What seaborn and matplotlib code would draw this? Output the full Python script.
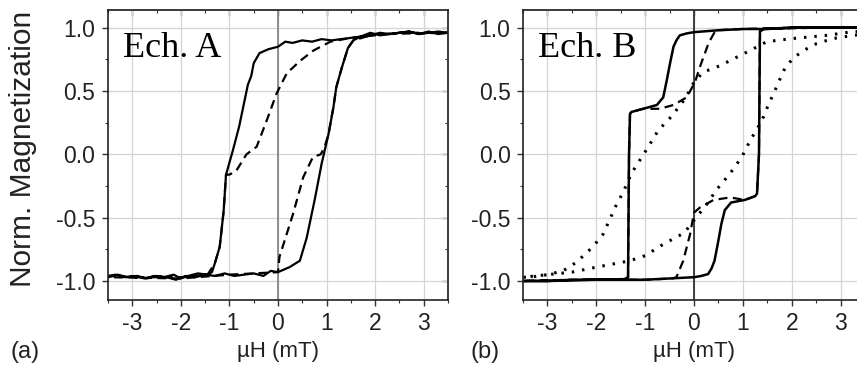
import matplotlib
matplotlib.use("Agg")
import matplotlib.pyplot as plt
import seaborn as sns
import pandas as pd
from matplotlib.ticker import MultipleLocator

sns.set_theme(style="whitegrid")
plt.rcParams['font.family'] = ['Liberation Sans', 'DejaVu Sans']

# ---- Ech. A : major loop (solid) ----
a_solid_dn_x = [3.5, 3.3, 3.1, 2.9, 2.7, 2.5, 2.3, 2.1, 1.9, 1.7, 1.5, 1.3, 1.1, 0.9, 0.7, 0.5, 0.3, 0.15,
                0.0, -0.2, -0.38, -0.5, -0.55, -0.62, -0.8, -0.93, -1.07, -1.12, -1.2, -1.3, -1.36, -1.45,
                -1.65, -1.85, -2.0, -2.15, -2.35, -2.55, -2.75, -2.95, -3.15, -3.35, -3.5]
a_solid_dn_y = [0.96, 0.95, 0.97, 0.95, 0.97, 0.96, 0.95, 0.94, 0.96, 0.93, 0.92, 0.91, 0.90, 0.91, 0.89,
                0.90, 0.88, 0.89, 0.85, 0.83, 0.80, 0.72, 0.62, 0.55, 0.22, 0.03, -0.16, -0.45, -0.73,
                -0.86, -0.93, -0.95, -0.94, -0.96, -0.98, -0.95, -0.97, -0.96, -0.98, -0.96, -0.97, -0.95,
                -0.96]
a_solid_up_x = [-3.5, -3.3, -3.1, -2.9, -2.7, -2.5, -2.3, -2.1, -1.9, -1.7, -1.5, -1.3, -1.1, -0.9, -0.7,
                -0.5, -0.3, -0.15, 0.0, 0.24, 0.45, 0.59, 0.76, 0.9, 1.04, 1.14, 1.2, 1.31, 1.44, 1.55,
                1.7, 1.9, 2.1, 2.3, 2.5, 2.7, 2.9, 3.1, 3.3, 3.5]
a_solid_up_y = [-0.97, -0.95, -0.97, -0.96, -0.98, -0.96, -0.97, -0.99, -0.96, -0.97, -0.95, -0.96,
                -0.94, -0.96, -0.95, -0.94, -0.96, -0.92, -0.93, -0.89, -0.84, -0.66, -0.35, -0.07, 0.16,
                0.37, 0.53, 0.68, 0.84, 0.90, 0.93, 0.94, 0.96, 0.95, 0.96, 0.97, 0.95, 0.96, 0.97, 0.96]

# ---- Ech. A : minor loop (dashed) ----
a_dash_dn_x = [3.5, 2.5, 1.5, 1.08, 0.73, 0.46, 0.18, -0.03, -0.23, -0.44, -0.65, -0.86, -1.0, -1.07,
               -1.12, -1.2, -1.3, -1.45, -2.0, -3.0, -3.5]
a_dash_dn_y = [0.96, 0.96, 0.92, 0.89, 0.82, 0.74, 0.64, 0.48, 0.27, 0.06, 0.0, -0.13, -0.16, -0.16,
               -0.45, -0.73, -0.86, -0.95, -0.97, -0.97, -0.96]
a_dash_up_x = [-3.5, -2.0, -1.0, 0.0, 0.03, 0.31, 0.52, 0.72, 0.88, 0.96, 1.04, 1.14, 1.2, 1.31, 1.44,
               1.55, 2.0, 3.5]
a_dash_up_y = [-0.97, -0.98, -0.95, -0.93, -0.81, -0.47, -0.18, -0.02, 0.0, 0.06, 0.16, 0.37, 0.53,
               0.68, 0.84, 0.90, 0.95, 0.96]

# ---- Ech. B : major loop (solid) ----
b_solid_dn_x = [3.5, 3.0, 2.0, 1.5, 1.0, 0.5, 0.0, -0.15, -0.29, -0.36, -0.42, -0.49, -0.56, -0.63,
                -0.76, -1.04, -1.28, -1.31, -1.33, -1.35, -1.42, -2.0, -2.5, -3.0, -3.5]
b_solid_dn_y = [1.0, 1.0, 1.0, 0.99, 0.99, 0.98, 0.965, 0.955, 0.94, 0.90, 0.85, 0.72, 0.58, 0.45,
                0.39, 0.36, 0.335, 0.32, 0.0, -0.97, -0.985, -0.99, -0.99, -1.0, -1.0]
b_solid_up_x = [-3.5, -3.0, -2.0, -1.0, -0.5, 0.0, 0.15, 0.29, 0.36, 0.42, 0.49, 0.56, 0.63, 0.76,
                1.04, 1.25, 1.29, 1.33, 1.35, 1.42, 2.0, 2.5, 3.0, 3.5]
b_solid_up_y = [-1.0, -1.0, -0.99, -0.99, -0.98, -0.97, -0.96, -0.945, -0.90, -0.84, -0.70, -0.55,
                -0.44, -0.38, -0.36, -0.33, -0.31, 0.0, 0.97, 0.99, 1.0, 1.0, 1.0, 1.0]

# ---- Ech. B : minor loop (dashed) ----
b_dash_dn_x = [3.5, 2.0, 1.0, 0.45, 0.4, 0.3, 0.12, 0.02, -0.15, -0.42, -0.7, -1.04, -1.28, -1.31,
               -1.33, -1.35, -1.42, -2.5, -3.5]
b_dash_dn_y = [1.0, 1.0, 0.99, 0.98, 0.95, 0.88, 0.69, 0.57, 0.45, 0.39, 0.36, 0.36, 0.335, 0.32, 0.0,
               -0.97, -0.985, -0.99, -1.0]
b_dash_up_x = [-3.5, -2.0, -1.0, -0.45, -0.36, -0.22, -0.08, 0.0, 0.12, 0.4, 0.74, 1.04, 1.25, 1.29,
               1.33, 1.35, 1.42, 2.5, 3.5]
b_dash_up_y = [-1.0, -0.99, -0.99, -0.98, -0.97, -0.84, -0.63, -0.46, -0.42, -0.36, -0.34, -0.36, -0.33,
               -0.31, 0.0, 0.97, 0.99, 1.0, 1.0]

# ---- Ech. B : wide loop (dotted) ----
b_dot_dn_x = [3.5, 3.27, 2.72, 2.03, 1.49, 1.22, 0.94, 0.53, 0.26, 0.19, 0.0, -0.18, -0.46, -0.73, -1.0,
              -1.28, -1.45, -1.58, -1.86, -2.07, -2.4, -2.68, -3.0, -3.36, -3.5]
b_dot_dn_y = [0.97, 0.97, 0.94, 0.915, 0.89, 0.835, 0.78, 0.70, 0.66, 0.65, 0.57, 0.44, 0.30, 0.19, 0.02,
              -0.15, -0.30, -0.39, -0.63, -0.73, -0.85, -0.92, -0.95, -0.97, -0.97]
b_dot_up_x = [-3.5, -3.0, -2.5, -1.99, -1.31, -1.0, -0.63, -0.2, 0.0, 0.25, 0.46, 0.74, 0.98, 1.15, 1.32,
              1.42, 1.52, 1.63, 1.73, 1.86, 2.03, 2.24, 2.51, 2.85, 3.27, 3.5]
b_dot_up_y = [-0.97, -0.95, -0.93, -0.89, -0.84, -0.80, -0.71, -0.62, -0.52, -0.40, -0.28, -0.15, -0.02,
              0.11, 0.22, 0.295, 0.39, 0.48, 0.57, 0.68, 0.76, 0.82, 0.875, 0.915, 0.94, 0.95]

x_ticks = [-3, -2, -1, 0, 1, 2, 3]
y_ticks = [-1.0, -0.5, 0.0, 0.5, 1.0]
sample_names = ["Ech. A", "Ech. B"]
panel_tags = ["(a)", "(b)"]


def loop_frame(dn_x, dn_y, up_x, up_y):
    # one closed loop: descending branch followed by the ascending branch
    return pd.DataFrame({'H': dn_x + up_x, 'M': dn_y + up_y})


def draw_loop(ax, df, **kw):
    sns.lineplot(data=df, x='H', y='M', sort=False, estimator=None, ax=ax,
                 color='black', legend=False, **kw)


def style_axes(ax, zero_color):
    ax.set_xlim(-3.5, 3.5)
    ax.set_ylim(-1.15, 1.14)
    ax.set_xticks(x_ticks)
    ax.set_xticklabels([str(t) for t in x_ticks])
    ax.set_yticks(y_ticks)
    ax.set_yticklabels(['%.1f' % t for t in y_ticks])
    ax.xaxis.set_minor_locator(MultipleLocator(0.5))
    ax.yaxis.set_minor_locator(MultipleLocator(0.25))
    ax.tick_params(which='both', bottom=True, left=True, top=False, right=False)
    ax.tick_params(which='major', direction='out', length=4, width=1, color='#333333',
                   labelsize=16.5, labelcolor='#222222', pad=5)
    ax.tick_params(which='minor', direction='out', length=2.5, width=0.8, color='#333333')
    ax.grid(True, which='major', color='#d4d4d4', linewidth=0.9)
    ax.grid(False, which='minor')
    ax.set_axisbelow(True)
    ax.axvline(0, color=zero_color, linewidth=1.1, zorder=1.5)
    for s in ax.spines.values():
        s.set_color('#222222')
        s.set_linewidth(1.2)
    # mirrored ticks pointing inwards on top and right
    top = ax.secondary_xaxis('top')
    top.set_xticks(x_ticks)
    top.xaxis.set_minor_locator(MultipleLocator(0.5))
    top.tick_params(which='both', top=True, direction='in', labeltop=False, color='#333333')
    top.tick_params(which='major', length=4, width=1)
    top.tick_params(which='minor', length=2.5, width=0.8)
    right = ax.secondary_yaxis('right')
    right.set_yticks(y_ticks)
    right.yaxis.set_minor_locator(MultipleLocator(0.25))
    right.tick_params(which='both', right=True, direction='in', labelright=False, color='#333333')
    right.tick_params(which='major', length=4, width=1)
    right.tick_params(which='minor', length=2.5, width=0.8)
    ax.set_ylabel('')
    ax.set_xlabel('\u00b5H (mT)', fontsize=16, color='#222222', labelpad=4)


fig = plt.figure(figsize=(8.57, 3.74), dpi=100)
ax_a = fig.add_axes([108 / 857, 1 - 300 / 374, 340 / 857, 290 / 374])
ax_b = fig.add_axes([523 / 857, 1 - 300 / 374, 342 / 857, 290 / 374])

draw_loop(ax_a, loop_frame(a_dash_dn_x, a_dash_dn_y, a_dash_up_x, a_dash_up_y),
          linewidth=1.6, linestyle=(0, (4, 2.5)))
draw_loop(ax_a, loop_frame(a_solid_dn_x, a_solid_dn_y, a_solid_up_x, a_solid_up_y), linewidth=1.6)

draw_loop(ax_b, loop_frame(b_dot_dn_x, b_dot_dn_y, b_dot_up_x, b_dot_up_y),
          linewidth=2.2, linestyle=(0, (0.8, 2.6)))
draw_loop(ax_b, loop_frame(b_dash_dn_x, b_dash_dn_y, b_dash_up_x, b_dash_up_y),
          linewidth=1.6, linestyle=(0, (4, 2.5)))
draw_loop(ax_b, loop_frame(b_solid_dn_x, b_solid_dn_y, b_solid_up_x, b_solid_up_y), linewidth=1.8)

style_axes(ax_a, '#777777')
style_axes(ax_b, '#111111')

for ax, name in zip([ax_a, ax_b], sample_names):
    ax.text(0.044, 0.838, name, transform=ax.transAxes, family='Liberation Serif',
            fontsize=26, color='black', va='baseline', ha='left')

fig.text(10 / 857, 1 - 352 / 374, panel_tags[0], fontsize=17, color='#222222', va='center', ha='left')
fig.text(470 / 857, 1 - 352 / 374, panel_tags[1], fontsize=17, color='#222222', va='center', ha='left')
fig.text(23 / 857, 1 - 287 / 374, 'Norm. Magnetization', rotation=90, fontsize=21.5,
         color='#222222', ha='center', va='bottom')

fig.savefig('out.png', dpi=100)
